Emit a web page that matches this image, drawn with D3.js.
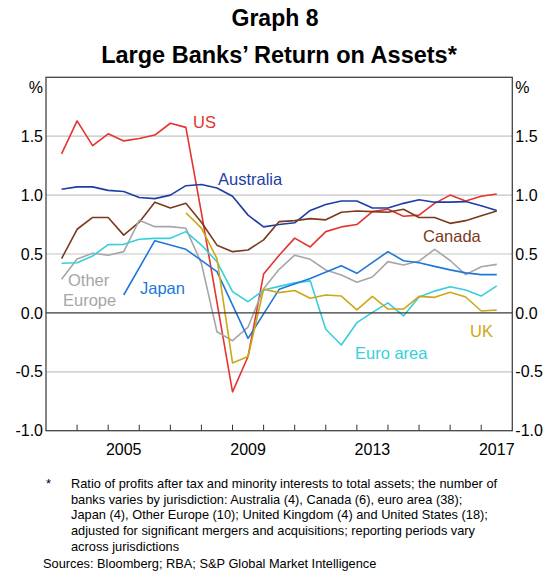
<!DOCTYPE html>
<html><head><meta charset="utf-8">
<script src="https://cdn.jsdelivr.net/npm/d3@7"></script>
<style>
body{margin:0;background:#fff;}
svg text{font-family:"Liberation Sans",Arial,sans-serif;}
</style></head>
<body><svg id="c" width="550" height="574"></svg>
<script>
// Half-yearly observation dates (decimal years)
const periods = [2003.5,2004,2004.5,2005,2005.5,2006,2006.5,2007,2007.5,2008,2008.5,2009,2009.5,2010,2010.5,2011,2011.5,2012,2012.5,2013,2013.5,2014,2014.5,2015,2015.5,2016,2016.5,2017,2017.5];

const us          = [1.35,1.63,1.42,1.52,1.46,1.48,1.51,1.61,1.575,0.85,0.09,-0.67,-0.37,0.33,0.49,0.635,0.56,0.69,0.73,0.75,0.86,0.88,0.82,0.83,0.93,1.0,0.95,0.99,1.01];
const australia   = [1.05,1.07,1.07,1.04,1.03,0.98,0.97,1.0,1.08,1.09,1.06,0.99,0.83,0.73,0.75,0.765,0.87,0.92,0.95,0.95,0.89,0.89,0.93,0.96,0.94,0.94,0.945,0.91,0.87];
const canada      = [0.46,0.71,0.81,0.81,0.66,0.77,0.94,0.89,0.93,0.77,0.575,0.52,0.534,0.62,0.775,0.783,0.80,0.79,0.854,0.865,0.86,0.854,0.88,0.81,0.81,0.76,0.783,0.825,0.865];
const otherEurope = [0.285,0.457,0.506,0.49,0.52,0.786,0.732,0.732,0.718,0.42,-0.16,-0.236,-0.12,0.205,0.37,0.49,0.455,0.364,0.322,0.26,0.305,0.435,0.407,0.44,0.54,0.445,0.325,0.392,0.412];
const euroArea    = [0.421,0.426,0.483,0.58,0.582,0.625,0.633,0.633,0.69,0.576,0.435,0.18,0.095,0.194,0.225,0.255,0.272,-0.139,-0.272,-0.083,0.005,0.085,-0.026,0.135,0.185,0.222,0.194,0.143,0.23];
const japan       = [null,null,null,null,0.152,null,0.613,null,0.54,null,0.35,null,-0.216,null,0.2,null,0.293,null,0.40,0.336,null,0.52,0.443,0.426,0.395,0.365,0.34,0.325,0.325];
const uk          = [null,null,null,null,null,null,null,null,0.85,0.72,0.46,-0.425,-0.37,0.2,0.172,0.19,0.124,0.152,0.143,0.025,0.14,0.033,0.033,0.14,0.132,0.175,0.135,0.016,0.025];

const yTicks = [-1.0,-0.5,0.0,0.5,1.0,1.5];
const yearLabels = [2005,2009,2013,2017];
const seriesNames = ["US","Australia","Canada","Other Europe","Euro area","Japan","UK"];
const seriesColors = ["#e3342f","#1d3ea6","#7b3a1d","#a6a6a6","#38cfdc","#2178d8","#cca716"];
const footnoteLines = [
 "Ratio of profits after tax and minority interests to total assets; the number of",
 "banks varies by jurisdiction: Australia (4), Canada (6), euro area (38);",
 "Japan (4), Other Europe (10); United Kingdom (4) and United States (18);",
 "adjusted for significant mergers and acquisitions; reporting periods vary",
 "across jurisdictions"
];
const sourcesText = "Sources: Bloomberg; RBA; S&P Global Market Intelligence";

const seriesData = [us,australia,canada,otherEurope,euroArea,japan,uk];

const svg = d3.select("#c");
const L=46, R=512.3, T=77.3, B=430.7;
const x = d3.scaleLinear().domain([2003,2018]).range([L,R]);
const y = d3.scaleLinear().domain([-1,2]).range([B,T]);
const fmt = v => d3.format(".1f")(v).replace("\u2212","-");

// gridlines
svg.append("g").selectAll("line").data(yTicks.filter(v=>v!==-1 && v!==0)).join("line")
  .attr("x1",L).attr("x2",R).attr("y1",d=>y(d)).attr("y2",d=>y(d))
  .attr("stroke","#c4c4c4").attr("stroke-width",1.2);

// x ticks (inward, at year boundaries)
const yearTicks = d3.range(2004,2018);
svg.append("g").selectAll("line").data(yearTicks).join("line")
  .attr("x1",d=>x(d)).attr("x2",d=>x(d)).attr("y1",B).attr("y2",B-6)
  .attr("stroke","#333").attr("stroke-width",1);

// series
const line = d3.line().x(d=>x(d[0])).y(d=>y(d[1]));
seriesData.forEach((arr,k)=>{
  const pts = periods.map((p,i)=>[p,arr[i]]).filter(d=>d[1]!==null);
  svg.append("path").datum(pts).attr("d",line).attr("fill","none")
    .attr("stroke",seriesColors[k]).attr("stroke-width",1.6).attr("stroke-linejoin","round");
});

// zero line
svg.append("line").attr("x1",L).attr("x2",R).attr("y1",y(0)).attr("y2",y(0))
  .attr("stroke","#3a3a3a").attr("stroke-width",1.3);

// frame
svg.append("rect").attr("x",L).attr("y",T).attr("width",R-L).attr("height",B-T)
  .attr("fill","none").attr("stroke","#444").attr("stroke-width",1.3);

// y labels
const lab = svg.append("g").attr("font-size","16px").attr("fill","#000");
yTicks.forEach(v=>{
  lab.append("text").attr("x",L-3).attr("y",y(v)).attr("dy","0.35em").attr("text-anchor","end").text(fmt(v));
  lab.append("text").attr("x",R+3).attr("y",y(v)).attr("dy","0.35em").attr("text-anchor","start").text(fmt(v));
});
lab.append("text").attr("x",L-3).attr("y",y(2)+10).attr("dy","0.35em").attr("text-anchor","end").text("%");
lab.append("text").attr("x",R+3).attr("y",y(2)+10).attr("dy","0.35em").attr("text-anchor","start").text("%");

// x labels
lab.selectAll(".yr").data(yearLabels).join("text").attr("class","yr")
  .attr("x",d=>x(d+0.5)).attr("y",455).attr("text-anchor","middle").text(d=>d);

// series labels
const labelPos = [
  {n:"US",x:193,y:128,c:0},
  {n:"Australia",x:218,y:185,c:1},
  {n:"Canada",x:423,y:242,c:2},
  {n:"Other",x:68,y:286,c:3},
  {n:"Europe",x:63,y:306,c:3},
  {n:"Euro area",x:355,y:359,c:4},
  {n:"Japan",x:140,y:294,c:5},
  {n:"UK",x:470,y:337,c:6}
];
svg.append("g").attr("font-size","16.5px").selectAll("text").data(labelPos).join("text")
  .attr("x",d=>d.x).attr("y",d=>d.y).attr("fill",d=>seriesColors[d.c]).text(d=>d.n);

// titles
svg.append("text").attr("x",275).attr("y",26).attr("text-anchor","middle")
  .attr("font-size","23px").attr("font-weight","bold").text("Graph 8");
svg.append("text").attr("x",279).attr("y",63).attr("text-anchor","middle")
  .attr("font-size","23.5px").attr("font-weight","bold").text("Large Banks\u2019 Return on Assets*");

// footnote
const fn = svg.append("g").attr("font-size","12.8px").attr("fill","#000");
fn.append("text").attr("x",46).attr("y",488).text("*");
footnoteLines.forEach((t,i)=>{
  fn.append("text").attr("x",71).attr("y",488+i*15.7).text(t);
});
fn.append("text").attr("x",43).attr("y",568).text(sourcesText);
</script></body></html>
